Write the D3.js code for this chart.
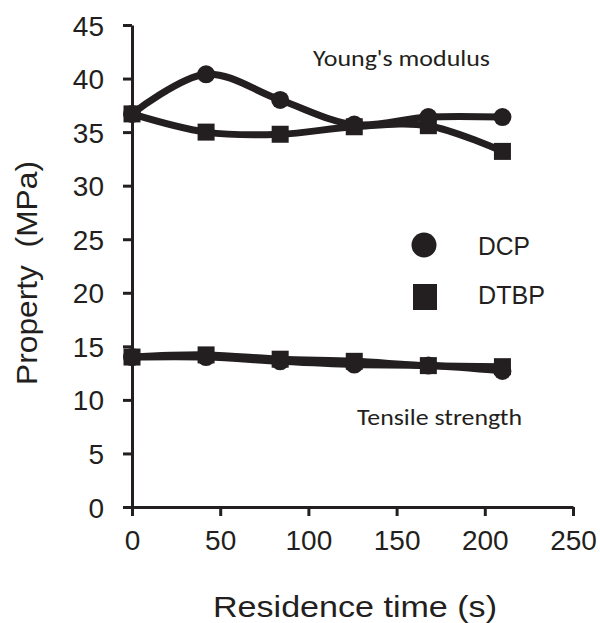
<!DOCTYPE html>
<html>
<head>
<meta charset="utf-8">
<script src="https://cdn.jsdelivr.net/npm/d3@7"></script>
<style>
  body { margin: 0; background: #fff; }
  text { fill: #231f20; }
</style>
</head>
<body>
<div id="chart"></div>
<script>
// Residence time (s)
const times = [0, 42, 84, 126, 168, 210];

// Young's modulus (MPa)
const youngDCP  = [36.7, 40.4, 38.0, 35.7, 36.4, 36.4];
const youngDTBP = [36.7, 35.0, 34.8, 35.5, 35.6, 33.2];

// Tensile strength (MPa)
const tensileDCP  = [14.0, 14.0, 13.6, 13.3, 13.2, 12.7];
const tensileDTBP = [14.0, 14.2, 13.8, 13.6, 13.2, 13.1];

const xTicks = [0, 50, 100, 150, 200, 250];
const yTicks = [0, 5, 10, 15, 20, 25, 30, 35, 40, 45];

const W = 600, H = 623;
const ink = '#231f20';

const svg = d3.select('#chart').append('svg')
    .attr('width', W)
    .attr('height', H);

const x = d3.scaleLinear().domain([0, 250]).range([132, 573]);
const y = d3.scaleLinear().domain([0, 45]).range([507, 25]);

// Axes
const xAxis = svg.append('g')
    .attr('transform', `translate(0,${y(0)})`)
    .call(d3.axisBottom(x).tickValues(xTicks).tickSize(9).tickPadding(14).tickSizeOuter(0));
const yAxis = svg.append('g')
    .attr('transform', `translate(${x(0)},0)`)
    .call(d3.axisLeft(y).tickValues(yTicks).tickSize(9).tickPadding(19).tickSizeOuter(0));

[xAxis, yAxis].forEach(a => {
    a.select('.domain').attr('stroke', ink).attr('stroke-width', 3);
    a.selectAll('.tick line').attr('stroke', ink).attr('stroke-width', 3);
    a.selectAll('.tick text')
        .style('font-family', 'Liberation Sans, Arial, sans-serif')
        .style('font-size', '28px')
        .attr('fill', ink);
});
yAxis.selectAll('.tick text').attr('dy', '0.36em');

// Axis titles
svg.append('text')
    .attr('x', 355)
    .attr('y', 617)
    .attr('text-anchor', 'middle')
    .attr('textLength', 284)
    .attr('lengthAdjust', 'spacingAndGlyphs')
    .style('font-family', 'Liberation Sans, Arial, sans-serif')
    .style('font-size', '29px')
    .text('Residence time (s)');

svg.append('text')
    .attr('transform', 'translate(37,273) rotate(-90)')
    .attr('text-anchor', 'middle')
    .attr('textLength', 224)
    .attr('lengthAdjust', 'spacingAndGlyphs')
    .style('font-family', 'Liberation Sans, Arial, sans-serif')
    .style('font-size', '29px')
    .style('white-space', 'pre')
    .text('Property  (MPa)');

// Lines
const series = [
    { values: youngDCP, shape: 'circle' },
    { values: youngDTBP, shape: 'square' },
    { values: tensileDCP, shape: 'circle' },
    { values: tensileDTBP, shape: 'square' }
];

const line = d3.line()
    .x((d, i) => x(times[i]))
    .y(d => y(d))
    .curve(d3.curveCatmullRom.alpha(0.5));

svg.append('g').selectAll('path')
    .data(series)
    .enter()
    .append('path')
    .attr('d', d => line(d.values))
    .attr('fill', 'none')
    .attr('stroke', ink)
    .attr('stroke-width', 7);

// Markers
series.forEach(s => {
    const g = svg.append('g');
    if (s.shape === 'circle') {
        g.selectAll('circle').data(s.values).enter().append('circle')
            .attr('cx', (d, i) => x(times[i]))
            .attr('cy', d => y(d))
            .attr('r', 9)
            .attr('fill', ink);
    } else {
        g.selectAll('rect').data(s.values).enter().append('rect')
            .attr('x', (d, i) => x(times[i]) - 8.5)
            .attr('y', d => y(d) - 8.5)
            .attr('width', 17)
            .attr('height', 17)
            .attr('fill', ink);
    }
});

// Annotations
svg.append('text')
    .attr('x', 313)
    .attr('y', 66)
    .attr('textLength', 177)
    .attr('lengthAdjust', 'spacingAndGlyphs')
    .style('font-family', 'Carlito, Calibri, Liberation Sans, sans-serif')
    .style('font-size', '23px')
    .text("Young's modulus");

svg.append('text')
    .attr('x', 357)
    .attr('y', 425)
    .attr('textLength', 165)
    .attr('lengthAdjust', 'spacingAndGlyphs')
    .style('font-family', 'Carlito, Calibri, Liberation Sans, sans-serif')
    .style('font-size', '23px')
    .text('Tensile strength');

// Legend
const legend = svg.append('g');
legend.append('circle')
    .attr('cx', 424).attr('cy', 245).attr('r', 12.5)
    .attr('fill', ink);
legend.append('rect')
    .attr('x', 413).attr('y', 284).attr('width', 24).attr('height', 26)
    .attr('fill', ink);
legend.append('text')
    .attr('x', 478).attr('y', 255)
    .attr('textLength', 52)
    .attr('lengthAdjust', 'spacingAndGlyphs')
    .style('font-family', 'Liberation Sans, Arial, sans-serif')
    .style('font-size', '25px')
    .text('DCP');
legend.append('text')
    .attr('x', 478).attr('y', 304)
    .attr('textLength', 67)
    .attr('lengthAdjust', 'spacingAndGlyphs')
    .style('font-family', 'Liberation Sans, Arial, sans-serif')
    .style('font-size', '25px')
    .text('DTBP');
</script>
</body>
</html>
